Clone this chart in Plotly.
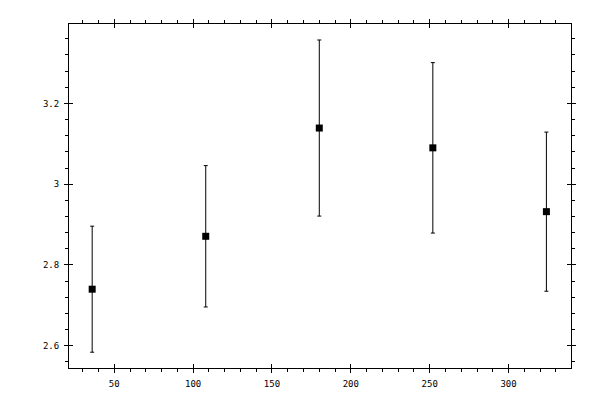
import plotly.graph_objects as go

x_vals = [36, 108, 180, 252, 324]
y_vals = [2.740, 2.871, 3.139, 3.090, 2.932]
y_err = [0.156, 0.175, 0.218, 0.211, 0.197]

x_range = [21.3, 339.6]
y_range = [2.5449, 3.3966]

fig = go.Figure()
fig.add_trace(go.Scatter(
    x=x_vals, y=y_vals, mode="markers",
    marker=dict(symbol="square", size=7, color="black"),
    error_y=dict(type="data", array=y_err, visible=True, color="black", thickness=1, width=2),
    showlegend=False, hoverinfo="skip",
))
# invisible trace for the overlay axes (inside major tick marks)
fig.add_trace(go.Scatter(x=[x_vals[0]], y=[y_vals[0]], xaxis="x2", yaxis="y2",
                         mode="markers", marker=dict(opacity=0), showlegend=False, hoverinfo="skip"))

font = dict(family="DejaVu Sans Mono", size=9, color="black")
fig.update_layout(
    width=592, height=392,
    margin=dict(l=61, r=29, t=11, b=30),
    paper_bgcolor="white", plot_bgcolor="white",
    xaxis=dict(range=x_range, tick0=0, dtick=50, ticks="outside", ticklen=4, tickwidth=1,
               tickcolor="black", showline=True, linecolor="black", linewidth=1, mirror="ticks",
               showgrid=False, zeroline=False, tickfont=font, ticklabelstandoff=3,
               minor=dict(dtick=10, tick0=0, ticks="outside", ticklen=3, tickcolor="black", tickwidth=1, showgrid=False)),
    yaxis=dict(range=y_range, tick0=2.6, dtick=0.2, ticks="outside", ticklen=4, tickwidth=1,
               tickcolor="black", showline=True, linecolor="black", linewidth=1, mirror="ticks",
               showgrid=False, zeroline=False, tickfont=font, ticklabelstandoff=3,
               minor=dict(dtick=0.04, tick0=2.6, ticks="outside", ticklen=3, tickcolor="black", tickwidth=1, showgrid=False)),
    xaxis2=dict(range=x_range, overlaying="x", anchor="y2", side="bottom", tick0=0, dtick=50,
                ticks="inside", ticklen=4, tickwidth=1, tickcolor="black", mirror="ticks",
                showticklabels=False, showgrid=False, zeroline=False, showline=False),
    yaxis2=dict(range=y_range, overlaying="y", anchor="x2", side="left", tick0=2.6, dtick=0.2,
                ticks="inside", ticklen=4, tickwidth=1, tickcolor="black", mirror="ticks",
                showticklabels=False, showgrid=False, zeroline=False, showline=False),
)
fig.write_html("out.html")
